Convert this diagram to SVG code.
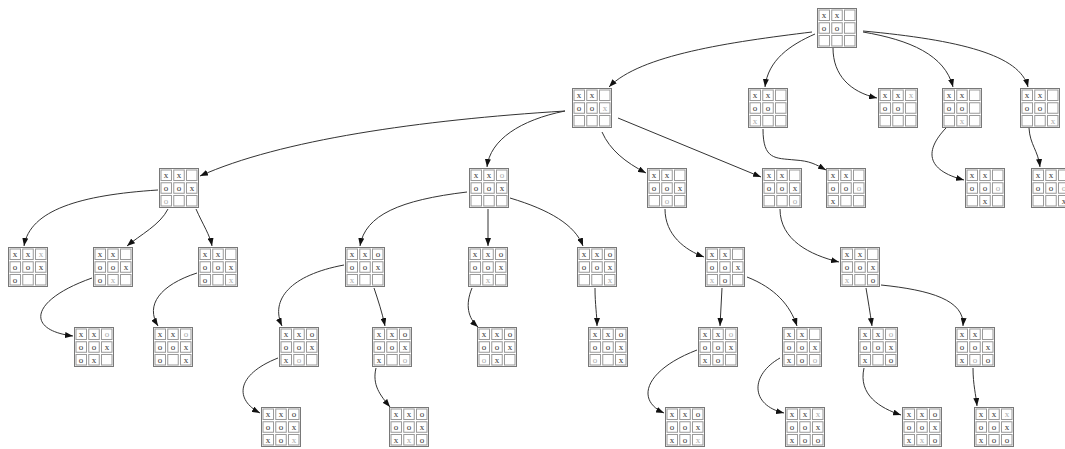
<svg xmlns="http://www.w3.org/2000/svg" xmlns:xlink="http://www.w3.org/1999/xlink" width="1065" height="449" viewBox="0 0 1065 449">
<style>
.bg{fill:#fff}
.out{fill:#fff;stroke:#777;stroke-width:1}
.cell{fill:none;stroke:#999;stroke-width:1}
.brd{opacity:0.99}
text{font-family:"Liberation Serif",serif;font-size:9px;text-anchor:middle;fill:#333}
text.g{fill:#aaa}
.e{fill:none;stroke:#333;stroke-width:1;marker-end:url(#ah)}
</style>
<defs>
<marker id="ah" markerUnits="userSpaceOnUse" markerWidth="8" markerHeight="6" refX="8" refY="3" orient="auto"><path d="M0,0 L8,3 L0,6 z" fill="#111"/></marker>
<g id="grid">
<rect class="out" x="0.5" y="0.5" width="39" height="39"/>
<rect class="cell" x="2" y="2" width="10.5" height="10.5"/><rect class="cell" x="14.75" y="2" width="10.5" height="10.5"/><rect class="cell" x="27.5" y="2" width="10.5" height="10.5"/>
<rect class="cell" x="2" y="14.75" width="10.5" height="10.5"/><rect class="cell" x="14.75" y="14.75" width="10.5" height="10.5"/><rect class="cell" x="27.5" y="14.75" width="10.5" height="10.5"/>
<rect class="cell" x="2" y="27.5" width="10.5" height="10.5"/><rect class="cell" x="14.75" y="27.5" width="10.5" height="10.5"/><rect class="cell" x="27.5" y="27.5" width="10.5" height="10.5"/>
</g>
</defs>
<rect class="bg" x="0" y="0" width="1065" height="449"/>
<g id="edges">
<path class="e" d="M812,32 C730,42 640,55 609,87"/>
<path class="e" d="M815,34 C790,45 768,60 765,87"/>
<path class="e" d="M833,48 C833,75 850,92 877,98"/>
<path class="e" d="M863,32 C910,40 945,55 953,87"/>
<path class="e" d="M863,31 C960,40 1020,55 1028,87"/>
<path class="e" d="M565,111 C420,120 280,140 200,176"/>
<path class="e" d="M565,111 C520,120 490,140 487,167"/>
<path class="e" d="M602,132 C610,150 625,162 646,173"/>
<path class="e" d="M618,118 L761,177"/>
<path class="e" d="M763,129 C763,160 775,158 795,160 C810,161 815,164 826,170"/>
<path class="e" d="M946,128 C925,150 925,170 964,180"/>
<path class="e" d="M1029,128 C1030,145 1038,150 1040,167"/>
<path class="e" d="M158,190 C80,195 30,210 24,246"/>
<path class="e" d="M168,209 C160,225 140,235 127,246"/>
<path class="e" d="M196,209 C203,225 210,235 212,246"/>
<path class="e" d="M467,192 C400,200 365,215 360,246"/>
<path class="e" d="M488,209 L488,246"/>
<path class="e" d="M510,198 C550,210 575,225 583,246"/>
<path class="e" d="M665,209 C665,235 685,250 704,257"/>
<path class="e" d="M780,209 C780,240 810,255 839,262"/>
<path class="e" d="M92,278 C30,300 25,330 73,336"/>
<path class="e" d="M197,273 C160,285 145,305 158,326"/>
<path class="e" d="M344,265 C290,275 270,300 282,326"/>
<path class="e" d="M374,288 C378,300 382,312 385,326"/>
<path class="e" d="M472,288 C465,305 468,318 478,327"/>
<path class="e" d="M595,288 C595,305 597,315 597,326"/>
<path class="e" d="M722,288 L720,326"/>
<path class="e" d="M747,277 C775,288 790,305 797,326"/>
<path class="e" d="M866,288 C868,300 870,312 872,326"/>
<path class="e" d="M881,285 C930,290 965,300 963,326"/>
<path class="e" d="M278,358 C235,375 235,400 260,413"/>
<path class="e" d="M376,368 C372,385 380,395 390,407"/>
<path class="e" d="M697,350 C645,370 635,400 664,413"/>
<path class="e" d="M780,358 C750,375 750,405 784,413"/>
<path class="e" d="M864,368 C858,395 880,408 901,415"/>
<path class="e" d="M973,368 C973,385 976,395 977,406"/>
</g>
<g id="b0" class="brd" transform="translate(817,8)"><use xlink:href="#grid"/><text x="7" y="9.5">x</text><text x="20" y="9.5">x</text><text x="7" y="22.5">o</text><text x="20" y="22.5">o</text></g>
<g id="b1" class="brd" transform="translate(572,88)"><use xlink:href="#grid"/><text x="7" y="9.5">x</text><text x="20" y="9.5">x</text><text x="7" y="22.5">o</text><text x="20" y="22.5">o</text><text class="g" x="33" y="22.5">x</text></g>
<g id="b2" class="brd" transform="translate(748,88)"><use xlink:href="#grid"/><text x="7" y="9.5">x</text><text x="20" y="9.5">x</text><text x="7" y="22.5">o</text><text x="20" y="22.5">o</text><text class="g" x="7" y="35.5">x</text></g>
<g id="b3" class="brd" transform="translate(878,88)"><use xlink:href="#grid"/><text x="7" y="9.5">x</text><text x="20" y="9.5">x</text><text class="g" x="33" y="9.5">x</text><text x="7" y="22.5">o</text><text x="20" y="22.5">o</text></g>
<g id="b4" class="brd" transform="translate(942,88)"><use xlink:href="#grid"/><text x="7" y="9.5">x</text><text x="20" y="9.5">x</text><text x="7" y="22.5">o</text><text x="20" y="22.5">o</text><text class="g" x="20" y="35.5">x</text></g>
<g id="b5" class="brd" transform="translate(1020,88)"><use xlink:href="#grid"/><text x="7" y="9.5">x</text><text x="20" y="9.5">x</text><text x="7" y="22.5">o</text><text x="20" y="22.5">o</text><text class="g" x="33" y="35.5">x</text></g>
<g id="b6" class="brd" transform="translate(159,168)"><use xlink:href="#grid"/><text x="7" y="9.5">x</text><text x="20" y="9.5">x</text><text x="7" y="22.5">o</text><text x="20" y="22.5">o</text><text x="33" y="22.5">x</text><text class="g" x="7" y="35.5">o</text></g>
<g id="b7" class="brd" transform="translate(469,168)"><use xlink:href="#grid"/><text x="7" y="9.5">x</text><text x="20" y="9.5">x</text><text class="g" x="33" y="9.5">o</text><text x="7" y="22.5">o</text><text x="20" y="22.5">o</text><text x="33" y="22.5">x</text></g>
<g id="b8" class="brd" transform="translate(647,168)"><use xlink:href="#grid"/><text x="7" y="9.5">x</text><text x="20" y="9.5">x</text><text x="7" y="22.5">o</text><text x="20" y="22.5">o</text><text x="33" y="22.5">x</text><text class="g" x="20" y="35.5">o</text></g>
<g id="b9" class="brd" transform="translate(762,168)"><use xlink:href="#grid"/><text x="7" y="9.5">x</text><text x="20" y="9.5">x</text><text x="7" y="22.5">o</text><text x="20" y="22.5">o</text><text x="33" y="22.5">x</text><text class="g" x="33" y="35.5">o</text></g>
<g id="b10" class="brd" transform="translate(826,168)"><use xlink:href="#grid"/><text x="7" y="9.5">x</text><text x="20" y="9.5">x</text><text x="7" y="22.5">o</text><text x="20" y="22.5">o</text><text class="g" x="33" y="22.5">o</text><text x="7" y="35.5">x</text></g>
<g id="b11" class="brd" transform="translate(965,168)"><use xlink:href="#grid"/><text x="7" y="9.5">x</text><text x="20" y="9.5">x</text><text x="7" y="22.5">o</text><text x="20" y="22.5">o</text><text class="g" x="33" y="22.5">o</text><text x="20" y="35.5">x</text></g>
<g id="b12" class="brd" transform="translate(1031,168)"><use xlink:href="#grid"/><text x="7" y="9.5">x</text><text x="20" y="9.5">x</text><text x="7" y="22.5">o</text><text x="20" y="22.5">o</text><text class="g" x="33" y="22.5">o</text><text x="33" y="35.5">x</text></g>
<g id="b13" class="brd" transform="translate(8,247)"><use xlink:href="#grid"/><text x="7" y="9.5">x</text><text x="20" y="9.5">x</text><text class="g" x="33" y="9.5">x</text><text x="7" y="22.5">o</text><text x="20" y="22.5">o</text><text x="33" y="22.5">x</text><text x="7" y="35.5">o</text></g>
<g id="b14" class="brd" transform="translate(93,247)"><use xlink:href="#grid"/><text x="7" y="9.5">x</text><text x="20" y="9.5">x</text><text x="7" y="22.5">o</text><text x="20" y="22.5">o</text><text x="33" y="22.5">x</text><text x="7" y="35.5">o</text><text class="g" x="20" y="35.5">x</text></g>
<g id="b15" class="brd" transform="translate(198,247)"><use xlink:href="#grid"/><text x="7" y="9.5">x</text><text x="20" y="9.5">x</text><text x="7" y="22.5">o</text><text x="20" y="22.5">o</text><text x="33" y="22.5">x</text><text x="7" y="35.5">o</text><text class="g" x="33" y="35.5">x</text></g>
<g id="b16" class="brd" transform="translate(345,247)"><use xlink:href="#grid"/><text x="7" y="9.5">x</text><text x="20" y="9.5">x</text><text x="33" y="9.5">o</text><text x="7" y="22.5">o</text><text x="20" y="22.5">o</text><text x="33" y="22.5">x</text><text class="g" x="7" y="35.5">x</text></g>
<g id="b17" class="brd" transform="translate(468,247)"><use xlink:href="#grid"/><text x="7" y="9.5">x</text><text x="20" y="9.5">x</text><text x="33" y="9.5">o</text><text x="7" y="22.5">o</text><text x="20" y="22.5">o</text><text x="33" y="22.5">x</text><text class="g" x="20" y="35.5">x</text></g>
<g id="b18" class="brd" transform="translate(577,247)"><use xlink:href="#grid"/><text x="7" y="9.5">x</text><text x="20" y="9.5">x</text><text x="33" y="9.5">o</text><text x="7" y="22.5">o</text><text x="20" y="22.5">o</text><text x="33" y="22.5">x</text><text class="g" x="33" y="35.5">x</text></g>
<g id="b19" class="brd" transform="translate(705,247)"><use xlink:href="#grid"/><text x="7" y="9.5">x</text><text x="20" y="9.5">x</text><text x="7" y="22.5">o</text><text x="20" y="22.5">o</text><text x="33" y="22.5">x</text><text class="g" x="7" y="35.5">x</text><text x="20" y="35.5">o</text></g>
<g id="b20" class="brd" transform="translate(840,247)"><use xlink:href="#grid"/><text x="7" y="9.5">x</text><text x="20" y="9.5">x</text><text x="7" y="22.5">o</text><text x="20" y="22.5">o</text><text x="33" y="22.5">x</text><text class="g" x="7" y="35.5">x</text><text x="33" y="35.5">o</text></g>
<g id="b21" class="brd" transform="translate(74,327)"><use xlink:href="#grid"/><text x="7" y="9.5">x</text><text x="20" y="9.5">x</text><text class="g" x="33" y="9.5">o</text><text x="7" y="22.5">o</text><text x="20" y="22.5">o</text><text x="33" y="22.5">x</text><text x="7" y="35.5">o</text><text x="20" y="35.5">x</text></g>
<g id="b22" class="brd" transform="translate(153,327)"><use xlink:href="#grid"/><text x="7" y="9.5">x</text><text x="20" y="9.5">x</text><text class="g" x="33" y="9.5">o</text><text x="7" y="22.5">o</text><text x="20" y="22.5">o</text><text x="33" y="22.5">x</text><text x="7" y="35.5">o</text><text x="33" y="35.5">x</text></g>
<g id="b23" class="brd" transform="translate(279,327)"><use xlink:href="#grid"/><text x="7" y="9.5">x</text><text x="20" y="9.5">x</text><text x="33" y="9.5">o</text><text x="7" y="22.5">o</text><text x="20" y="22.5">o</text><text x="33" y="22.5">x</text><text x="7" y="35.5">x</text><text class="g" x="20" y="35.5">o</text></g>
<g id="b24" class="brd" transform="translate(372,327)"><use xlink:href="#grid"/><text x="7" y="9.5">x</text><text x="20" y="9.5">x</text><text x="33" y="9.5">o</text><text x="7" y="22.5">o</text><text x="20" y="22.5">o</text><text x="33" y="22.5">x</text><text x="7" y="35.5">x</text><text class="g" x="33" y="35.5">o</text></g>
<g id="b25" class="brd" transform="translate(477,327)"><use xlink:href="#grid"/><text x="7" y="9.5">x</text><text x="20" y="9.5">x</text><text x="33" y="9.5">o</text><text x="7" y="22.5">o</text><text x="20" y="22.5">o</text><text x="33" y="22.5">x</text><text class="g" x="7" y="35.5">o</text><text x="20" y="35.5">x</text></g>
<g id="b26" class="brd" transform="translate(588,327)"><use xlink:href="#grid"/><text x="7" y="9.5">x</text><text x="20" y="9.5">x</text><text x="33" y="9.5">o</text><text x="7" y="22.5">o</text><text x="20" y="22.5">o</text><text x="33" y="22.5">x</text><text class="g" x="7" y="35.5">o</text><text x="33" y="35.5">x</text></g>
<g id="b27" class="brd" transform="translate(698,327)"><use xlink:href="#grid"/><text x="7" y="9.5">x</text><text x="20" y="9.5">x</text><text class="g" x="33" y="9.5">o</text><text x="7" y="22.5">o</text><text x="20" y="22.5">o</text><text x="33" y="22.5">x</text><text x="7" y="35.5">x</text><text x="20" y="35.5">o</text></g>
<g id="b28" class="brd" transform="translate(782,327)"><use xlink:href="#grid"/><text x="7" y="9.5">x</text><text x="20" y="9.5">x</text><text x="7" y="22.5">o</text><text x="20" y="22.5">o</text><text x="33" y="22.5">x</text><text x="7" y="35.5">x</text><text x="20" y="35.5">o</text><text class="g" x="33" y="35.5">o</text></g>
<g id="b29" class="brd" transform="translate(858,327)"><use xlink:href="#grid"/><text x="7" y="9.5">x</text><text x="20" y="9.5">x</text><text class="g" x="33" y="9.5">o</text><text x="7" y="22.5">o</text><text x="20" y="22.5">o</text><text x="33" y="22.5">x</text><text x="7" y="35.5">x</text><text x="33" y="35.5">o</text></g>
<g id="b30" class="brd" transform="translate(955,327)"><use xlink:href="#grid"/><text x="7" y="9.5">x</text><text x="20" y="9.5">x</text><text x="7" y="22.5">o</text><text x="20" y="22.5">o</text><text x="33" y="22.5">x</text><text x="7" y="35.5">x</text><text class="g" x="20" y="35.5">o</text><text x="33" y="35.5">o</text></g>
<g id="b31" class="brd" transform="translate(261,407)"><use xlink:href="#grid"/><text x="7" y="9.5">x</text><text x="20" y="9.5">x</text><text x="33" y="9.5">o</text><text x="7" y="22.5">o</text><text x="20" y="22.5">o</text><text x="33" y="22.5">x</text><text x="7" y="35.5">x</text><text x="20" y="35.5">o</text><text class="g" x="33" y="35.5">x</text></g>
<g id="b32" class="brd" transform="translate(389,407)"><use xlink:href="#grid"/><text x="7" y="9.5">x</text><text x="20" y="9.5">x</text><text x="33" y="9.5">o</text><text x="7" y="22.5">o</text><text x="20" y="22.5">o</text><text x="33" y="22.5">x</text><text x="7" y="35.5">x</text><text class="g" x="20" y="35.5">x</text><text x="33" y="35.5">o</text></g>
<g id="b33" class="brd" transform="translate(665,407)"><use xlink:href="#grid"/><text x="7" y="9.5">x</text><text x="20" y="9.5">x</text><text x="33" y="9.5">o</text><text x="7" y="22.5">o</text><text x="20" y="22.5">o</text><text x="33" y="22.5">x</text><text x="7" y="35.5">x</text><text x="20" y="35.5">o</text><text class="g" x="33" y="35.5">x</text></g>
<g id="b34" class="brd" transform="translate(785,407)"><use xlink:href="#grid"/><text x="7" y="9.5">x</text><text x="20" y="9.5">x</text><text class="g" x="33" y="9.5">x</text><text x="7" y="22.5">o</text><text x="20" y="22.5">o</text><text x="33" y="22.5">x</text><text x="7" y="35.5">x</text><text x="20" y="35.5">o</text><text x="33" y="35.5">o</text></g>
<g id="b35" class="brd" transform="translate(902,407)"><use xlink:href="#grid"/><text x="7" y="9.5">x</text><text x="20" y="9.5">x</text><text x="33" y="9.5">o</text><text x="7" y="22.5">o</text><text x="20" y="22.5">o</text><text x="33" y="22.5">x</text><text x="7" y="35.5">x</text><text class="g" x="20" y="35.5">x</text><text x="33" y="35.5">o</text></g>
<g id="b36" class="brd" transform="translate(974,407)"><use xlink:href="#grid"/><text x="7" y="9.5">x</text><text x="20" y="9.5">x</text><text class="g" x="33" y="9.5">x</text><text x="7" y="22.5">o</text><text x="20" y="22.5">o</text><text x="33" y="22.5">x</text><text x="7" y="35.5">x</text><text x="20" y="35.5">o</text><text x="33" y="35.5">o</text></g>
</svg>
